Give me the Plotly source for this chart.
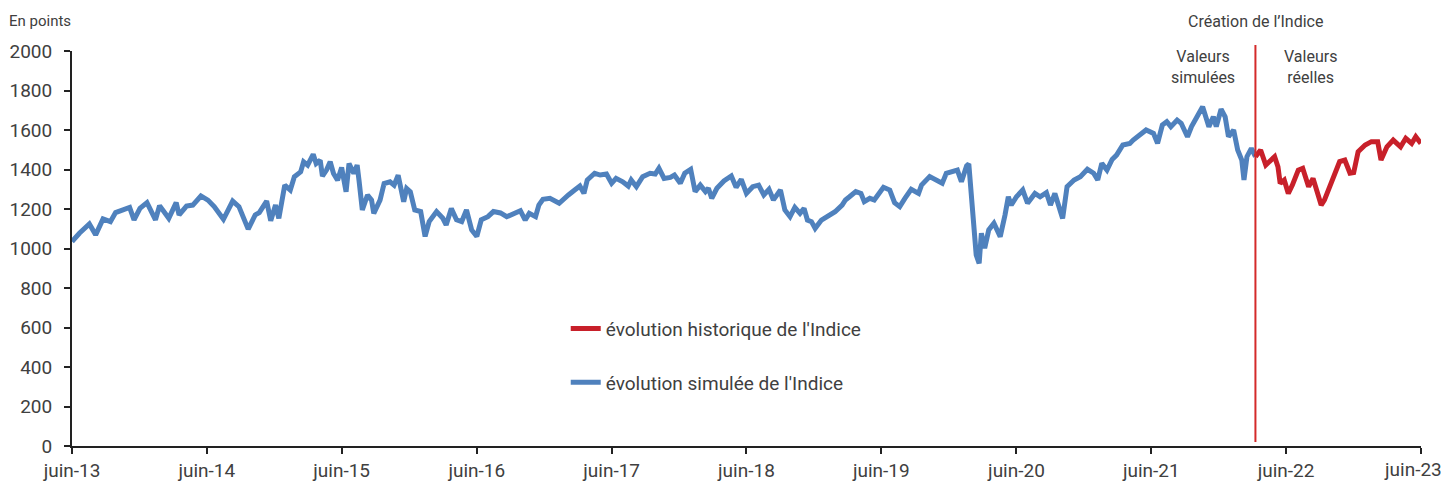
import plotly.graph_objects as go

# ---- data ----
sim_dates = [
    "2013-06-01", "2013-06-21", "2013-07-18", "2013-08-04", "2013-08-24", "2013-09-13", "2013-09-27",
    "2013-10-13", "2013-11-04", "2013-11-16", "2013-12-02", "2013-12-21", "2014-01-13", "2014-01-24",
    "2014-02-18", "2014-03-10", "2014-03-18", "2014-04-07", "2014-04-24", "2014-05-16", "2014-06-04",
    "2014-06-21", "2014-07-16", "2014-08-10", "2014-08-27", "2014-09-21", "2014-10-10", "2014-10-21",
    "2014-11-10", "2014-11-21", "2014-12-04", "2014-12-13", "2014-12-21", "2014-12-29", "2015-01-13",
    "2015-01-24", "2015-02-10", "2015-02-18", "2015-03-01", "2015-03-16", "2015-03-24", "2015-04-04",
    "2015-04-10", "2015-04-21", "2015-05-01", "2015-05-10", "2015-05-21", "2015-06-01", "2015-06-13",
    "2015-06-21", "2015-07-04", "2015-07-13", "2015-07-18", "2015-07-27", "2015-08-10", "2015-08-21",
    "2015-08-27", "2015-09-13", "2015-09-24", "2015-10-10", "2015-10-21", "2015-11-01", "2015-11-16",
    "2015-11-24", "2015-12-04", "2015-12-16", "2016-01-01", "2016-01-13", "2016-01-24", "2016-02-13",
    "2016-03-01", "2016-03-10", "2016-03-24", "2016-04-07", "2016-04-21", "2016-05-04", "2016-05-18",
    "2016-06-01", "2016-06-13", "2016-07-01", "2016-07-16", "2016-08-04", "2016-08-21", "2016-09-10",
    "2016-09-27", "2016-10-10", "2016-10-21", "2016-11-07", "2016-11-16", "2016-11-27", "2016-12-16",
    "2017-01-10", "2017-01-21", "2017-02-04", "2017-02-21", "2017-03-07", "2017-03-18", "2017-03-27",
    "2017-04-16", "2017-05-01", "2017-05-18", "2017-06-01", "2017-06-13", "2017-07-01", "2017-07-16",
    "2017-07-24", "2017-08-07", "2017-08-24", "2017-09-13", "2017-09-27", "2017-10-07", "2017-10-21",
    "2017-11-07", "2017-11-18", "2017-12-04", "2017-12-16", "2018-01-01", "2018-01-13", "2018-01-27",
    "2018-02-10", "2018-02-18", "2018-02-27", "2018-03-13", "2018-04-01", "2018-04-21", "2018-05-04",
    "2018-05-18", "2018-06-01", "2018-06-18", "2018-07-04", "2018-07-18", "2018-08-01", "2018-08-13",
    "2018-09-01", "2018-09-13", "2018-09-27", "2018-10-10", "2018-10-24", "2018-11-04", "2018-11-13",
    "2018-11-24", "2018-12-04", "2018-12-21", "2019-01-10", "2019-01-27", "2019-02-15", "2019-02-24",
    "2019-03-07", "2019-03-24", "2019-04-07", "2019-04-16", "2019-05-01", "2019-05-13", "2019-06-07",
    "2019-06-24", "2019-07-07", "2019-07-21", "2019-08-04", "2019-08-21", "2019-09-10", "2019-09-18",
    "2019-10-10", "2019-10-27", "2019-11-13", "2019-11-24", "2019-12-07", "2019-12-24", "2020-01-04",
    "2020-01-18", "2020-01-24", "2020-02-01", "2020-02-13", "2020-02-21", "2020-02-27", "2020-03-07",
    "2020-03-18", "2020-04-01", "2020-04-10", "2020-04-18", "2020-05-01", "2020-05-10", "2020-05-18",
    "2020-06-01", "2020-06-18", "2020-07-01", "2020-07-21", "2020-08-04", "2020-08-21", "2020-09-01",
    "2020-09-13", "2020-09-24", "2020-10-04", "2020-10-16", "2020-11-04", "2020-11-21", "2020-12-10",
    "2020-12-27", "2021-01-07", "2021-01-18", "2021-02-01", "2021-02-15", "2021-02-27", "2021-03-16",
    "2021-04-04", "2021-04-13", "2021-05-01", "2021-05-18", "2021-06-07", "2021-06-18", "2021-07-01",
    "2021-07-13", "2021-07-24", "2021-08-10", "2021-08-21", "2021-09-07", "2021-09-18", "2021-10-07",
    "2021-10-18", "2021-11-04", "2021-11-16", "2021-11-24", "2021-12-07", "2021-12-18", "2021-12-27",
    "2022-01-10", "2022-01-21", "2022-02-01", "2022-02-07", "2022-02-15", "2022-02-27", "2022-03-10",
]
sim_values = [
    1035, 1077, 1124, 1069, 1150, 1136, 1182,
    1192, 1208, 1145, 1203, 1232, 1145, 1217,
    1153, 1232, 1170, 1215, 1220, 1266, 1245,
    1212, 1148, 1240, 1212, 1098, 1170, 1182,
    1240, 1141, 1220, 1153, 1249, 1321, 1296,
    1363, 1388, 1439, 1422, 1477, 1430, 1447,
    1366, 1397, 1439, 1380, 1346, 1410, 1287,
    1430, 1380, 1422, 1346, 1195, 1271, 1245,
    1178, 1245, 1329, 1338, 1321, 1371, 1237,
    1304, 1287, 1195, 1187, 1061, 1136, 1187,
    1153, 1119, 1203, 1145, 1136, 1195, 1094,
    1061, 1145, 1161, 1187, 1180, 1161, 1181,
    1191, 1144, 1178, 1161, 1220, 1249, 1254,
    1229, 1249, 1271, 1296, 1316, 1279, 1347,
    1381, 1372, 1377, 1330, 1355, 1338, 1316,
    1347, 1313, 1364, 1381, 1377, 1406, 1355,
    1360, 1372, 1330, 1381, 1401, 1288, 1321,
    1288, 1305, 1254, 1305, 1342, 1367, 1310,
    1350, 1279, 1313, 1321, 1271, 1300, 1246,
    1296, 1195, 1161, 1208, 1178, 1203, 1144,
    1136, 1102, 1144, 1170, 1186, 1220, 1246,
    1262, 1288, 1279, 1237, 1254, 1246, 1310,
    1296, 1232, 1212, 1254, 1300, 1279, 1321,
    1364, 1347, 1330, 1381, 1389, 1397, 1338,
    1418, 1428, 1246, 967, 925, 1077, 1001,
    1094, 1128, 1094, 1060, 1170, 1262, 1220,
    1262, 1296, 1229, 1279, 1262, 1283, 1220,
    1279, 1203, 1152, 1313, 1347, 1364, 1401,
    1381, 1347, 1431, 1397, 1451, 1473, 1524,
    1532, 1549, 1575, 1600, 1583, 1532, 1625,
    1642, 1617, 1650, 1634, 1566, 1617, 1676,
    1718, 1617, 1667, 1617, 1705, 1667, 1566,
    1600, 1499, 1448, 1347, 1465, 1507, 1465,
]

hist_dates = [
    "2022-03-10", "2022-03-13", "2022-03-24", "2022-04-07", "2022-04-18", "2022-05-01", "2022-05-10",
    "2022-05-16", "2022-05-27", "2022-06-07", "2022-06-18", "2022-07-04", "2022-07-16", "2022-08-01",
    "2022-08-13", "2022-08-24", "2022-09-04", "2022-09-13", "2022-09-27", "2022-10-10", "2022-10-24",
    "2022-11-07", "2022-11-21", "2022-12-01", "2022-12-13", "2023-01-01", "2023-01-18", "2023-02-04",
    "2023-02-13", "2023-03-01", "2023-03-18", "2023-04-07", "2023-04-21", "2023-05-07", "2023-05-18",
    "2023-06-01",
]
hist_values = [
    1465, 1473, 1499, 1423, 1440, 1465, 1414,
    1330, 1347, 1279, 1321, 1397, 1406, 1313,
    1355, 1279, 1220, 1246, 1313, 1381, 1440,
    1448, 1381, 1384, 1490, 1524, 1541, 1541,
    1448, 1515, 1549, 1515, 1558, 1532, 1566,
    1532,
]

creation_date = "2022-03-10"
tick_dates = ["2013-06-01", "2014-06-01", "2015-06-01", "2016-06-01", "2017-06-01", "2018-06-01",
              "2019-06-01", "2020-06-01", "2021-06-01", "2022-06-01", "2023-06-01"]
tick_labels = ["juin-13", "juin-14", "juin-15", "juin-16", "juin-17", "juin-18",
               "juin-19", "juin-20", "juin-21", "juin-22", "juin-23"]

FONT = "Roboto, sans-serif"
TXT = "#404040"
BLUE = "#4f81bd"
RED = "#c8202a"

fig = go.Figure()
fig.add_trace(go.Scatter(x=sim_dates, y=sim_values, mode="lines",
                         name="évolution simulée de l'Indice", legendrank=2, legendgroup="b",
                         line=dict(color=BLUE, width=5)))
fig.add_trace(go.Scatter(x=hist_dates, y=hist_values, mode="lines",
                         name="évolution historique de l'Indice", legendrank=1, legendgroup="a",
                         line=dict(color=RED, width=5)))

fig.add_shape(type="line", xref="x", yref="paper", x0=creation_date, x1=creation_date,
              y0=0.01, y1=1.015, line=dict(color="#d42a2a", width=2))

fig.add_annotation(text="En points", xref="paper", yref="paper", x=-0.048, y=1.075,
                   xanchor="left", yanchor="middle", showarrow=False,
                   font=dict(family=FONT, size=15, color=TXT))
fig.add_annotation(text="Création de l’Indice", xref="x", yref="paper", x=creation_date, y=1.075,
                   xanchor="center", yanchor="middle", showarrow=False,
                   font=dict(family=FONT, size=16, color=TXT))
fig.add_annotation(text="Valeurs<br>simulées", xref="x", yref="paper", x="2021-10-20", y=1.015,
                   xanchor="center", yanchor="top", showarrow=False,
                   font=dict(family=FONT, size=16, color=TXT))
fig.add_annotation(text="Valeurs<br>réelles", xref="x", yref="paper", x="2022-08-07", y=1.015,
                   xanchor="center", yanchor="top", showarrow=False,
                   font=dict(family=FONT, size=16, color=TXT))
# last x tick label, nudged left so that it stays inside the page (as in the reference)
fig.add_annotation(text=tick_labels[-1], xref="x", yref="paper", x=tick_dates[-1], y=0,
                   xanchor="center", yanchor="middle", yshift=-23, xshift=-8, showarrow=False,
                   font=dict(family=FONT, size=19, color=TXT))

fig.update_layout(
    width=1441, height=476,
    margin=dict(l=64, r=28, t=43, b=38, autoexpand=False),
    plot_bgcolor="white", paper_bgcolor="white",
    font=dict(family=FONT, size=18, color=TXT),
    showlegend=True,
    legend=dict(x=0.366, y=0.345, xanchor="left", yanchor="top",
                bgcolor="rgba(0,0,0,0)", font=dict(family=FONT, size=19, color=TXT),
                tracegroupgap=26, traceorder="grouped"),
    xaxis=dict(range=["2013-06-01", "2023-06-01 06:00"], tickmode="array",
               tickvals=tick_dates, ticktext=tick_labels[:-1] + [""], automargin=False,
               showgrid=False, zeroline=False, showline=True, linecolor="#222222", linewidth=2,
               ticks="outside", ticklen=6, tickwidth=1.5, tickcolor="#222222",
               tickfont=dict(family=FONT, size=19, color=TXT)),
    yaxis=dict(range=[0, 2000], dtick=200, tick0=0, automargin=False,
               showgrid=False, zeroline=False, showline=True, linecolor="#222222", linewidth=2,
               ticks="outside", ticklen=6, tickwidth=1.5, tickcolor="#222222",
               ticklabelstandoff=8,
               tickfont=dict(family=FONT, size=19, color=TXT)),
)

fig.write_html("out.html")
